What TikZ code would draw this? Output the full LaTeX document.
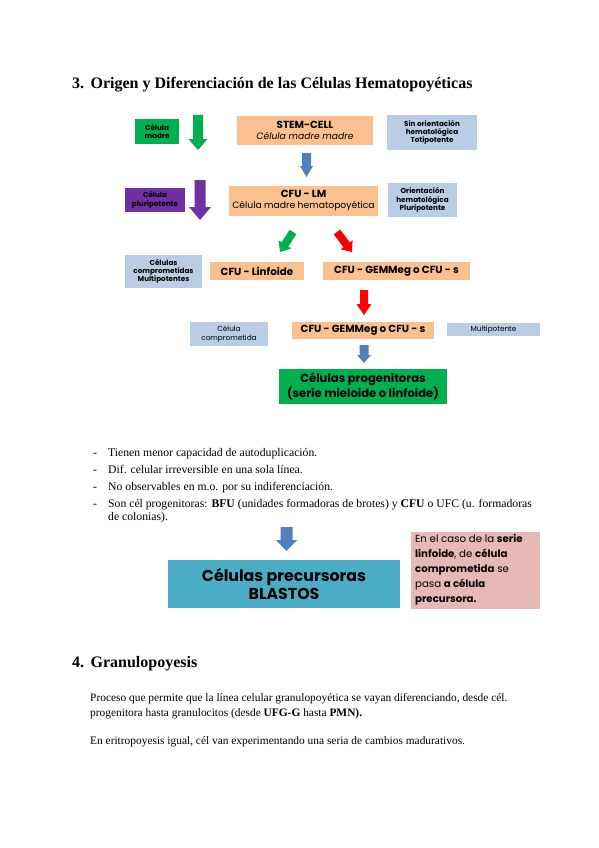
\documentclass[tikz,border=0pt]{standalone}
\usepackage{fontspec}
\setmainfont{Liberation Serif}
\newfontfamily\boxfont{Poppins}
\usetikzlibrary{calc}
\definecolor{gA}{HTML}{00B050}
\definecolor{pA}{HTML}{7030A0}
\definecolor{bA}{HTML}{4F81BD}
\definecolor{rA}{HTML}{FF0000}
\definecolor{orA}{HTML}{FAC090}
\definecolor{lbA}{HTML}{B9CDE5}
\definecolor{tlA}{HTML}{4BACC6}
\definecolor{pkA}{HTML}{E6B9B8}
\newcommand\blockarrow[6]{% style, tail, tip, shaft half width, head half width, head length
  \coordinate (hb) at ($(#3)!#6!(#2)$);
  \fill[#1] ($(#2)!#4!90:(#3)$) -- ($(hb)!#4!90:(#3)$) -- ($(hb)!#5!90:(#3)$) -- (#3)
    -- ($(hb)!#5!-90:(#3)$) -- ($(hb)!#4!-90:(#3)$) -- ($(#2)!#4!-90:(#3)$) -- cycle;}
\begin{document}
\begin{tikzpicture}[x=1pt,y=-1pt,
  box/.style={inner sep=0pt, align=center, text=black},
  sm/.style={box, font=\boxfont\bfseries\fontsize{7.2}{8.4}\selectfont},
  xs/.style={box, font=\boxfont\fontsize{7.3}{8.2}\selectfont},
  bd/.style={box, font=\boxfont\bfseries\fontsize{10.3}{12}\selectfont},
  body/.style={anchor=base west, inner sep=0pt, font=\fontsize{11.7}{13}\selectfont},
  para/.style={anchor=base west, inner sep=0pt, font=\fontsize{11.4}{13}\selectfont},
  head/.style={anchor=base west, inner sep=0pt, font=\bfseries\fontsize{16}{18}\selectfont}]
\useasboundingbox (0,0) rectangle (599,848);
\fill[white] (0,0) rectangle (599,848);

\node[head] (t3) at (72,89) {3.\hspace{0.4em}Origen y Diferenciación de las Células Hematopoyéticas};

% row 1
\node[sm, fill=gA, minimum width=44, minimum height=25] (madre) at (157,131.5) {Célula\\madre};
\node[box, fill=orA, minimum width=136, minimum height=29, font=\boxfont\fontsize{9.2}{11}\selectfont] (stem) at (305,130.5) {{\bfseries\fontsize{10.3}{11}\selectfont STEM-CELL}\\\textit{Célula madre madre}};
\node[sm, fill=lbA, minimum width=90, minimum height=35] (sin) at (432,132.5) {Sin orientación\\hematológica\\Totipotente};

% row 2
\node[sm, fill=pA, minimum width=60, minimum height=24] (pluri) at (155,200) {Célula\\pluripotente};
\node[box, fill=orA, minimum width=149, minimum height=30, font=\boxfont\fontsize{9.2}{11}\selectfont] (cfulm) at (303.5,201) {{\bfseries\fontsize{10.3}{11}\selectfont CFU - LM}\\Célula madre hematopoyética};
\node[sm, fill=lbA, minimum width=69, minimum height=34] (orient) at (422.5,200) {Orientación\\hematológica\\Pluripotente};

% row 3
\node[sm, fill=lbA, minimum width=77, minimum height=33] (compr) at (163.5,271.5) {Células\\comprometidas\\Multipotentes};
\node[bd, fill=orA, minimum width=94, minimum height=18] (linf) at (257,271) {CFU - Linfoide};
\node[bd, fill=orA, minimum width=147, minimum height=18] (gem1) at (396.5,271) {CFU - GEMMeg o CFU - s};

% row 4
\node[xs, fill=lbA, minimum width=78, minimum height=24] (compr2) at (229,334) {Célula\\comprometida};
\node[bd, fill=orA, minimum width=142, minimum height=17] (gem2) at (363,330.5) {CFU - GEMMeg o CFU - s};
\node[xs, fill=lbA, minimum width=93, minimum height=13] (multi) at (493.5,329.5) {Multipotente};

% row 5
\node[box, fill=gA, minimum width=168, minimum height=35, font=\boxfont\bfseries\fontsize{11.6}{13.5}\selectfont] (prog) at (363,386.5) {Células progenitoras\\(serie mieloide o linfoide)};

% arrows
\coordinate (a1t) at (198,115); \coordinate (a1p) at (198,150);
\blockarrow{gA}{a1t}{a1p}{5pt}{9.5pt}{11pt}
\coordinate (a2t) at (306.5,153); \coordinate (a2p) at (306.5,177);
\blockarrow{bA}{a2t}{a2p}{4.5pt}{6.5pt}{11pt}
\coordinate (a3t) at (200,180); \coordinate (a3p) at (200,220);
\blockarrow{pA}{a3t}{a3p}{5.5pt}{11pt}{13pt}
\coordinate (a4t) at (293,232); \coordinate (a4p) at (280,252);
\blockarrow{gA}{a4t}{a4p}{4pt}{7.5pt}{9pt}
\coordinate (a5t) at (337,232); \coordinate (a5p) at (352,252);
\blockarrow{rA}{a5t}{a5p}{4pt}{7.5pt}{9pt}
\coordinate (a6t) at (364,290); \coordinate (a6p) at (364,315);
\blockarrow{rA}{a6t}{a6p}{4pt}{7.5pt}{11pt}
\coordinate (a7t) at (364,345); \coordinate (a7p) at (364,363);
\blockarrow{bA}{a7t}{a7p}{4.5pt}{7pt}{8pt}
\coordinate (a8t) at (286.5,527); \coordinate (a8p) at (286.5,551);
\blockarrow{bA}{a8t}{a8p}{6pt}{10.5pt}{11pt}

% bullets
\node[body] (d1) at (93,456) {-}; \node[body] (b1) at (108,456) {Tienen menor capacidad de autoduplicación.};
\node[body] (d2) at (93,473) {-}; \node[body] (b2) at (108,473) {Dif. celular irreversible en una sola línea.};
\node[body] (d3) at (93,490) {-}; \node[body] (b3) at (108,490) {No observables en m.o. por su indiferenciación.};
\node[body] (d4) at (93,507) {-}; \node[body] (b4) at (108,507) {Son cél progenitoras: \textbf{BFU} (unidades formadoras de brotes) y \textbf{CFU} o UFC (u. formadoras};
\node[body] (b5) at (108,520) {de colonias).};

% blastos and note
\node[box, fill=tlA, minimum width=232, minimum height=48, font=\boxfont\bfseries\fontsize{15.8}{18}\selectfont] (blast) at (284,584) {Células precursoras\\BLASTOS};
\node[fill=pkA, minimum width=129, minimum height=77, inner sep=0pt] (pink) at (475.5,570.5) {};
\node[anchor=north west, inner sep=0pt, align=left, font=\boxfont\fontsize{10.2}{15}\selectfont] (note) at (415,534) {En el caso de la \textbf{serie}\\\textbf{linfoide}, de \textbf{célula}\\\textbf{comprometida} se\\pasa \textbf{a célula}\\\textbf{precursora.}};

% section 4
\node[head] (t4) at (72,667) {4.\hspace{0.4em}Granulopoyesis};
\node[para] (p1) at (90,701) {Proceso que permite que la línea celular granulopoyética se vayan diferenciando, desde cél.};
\node[para] (p2) at (90,716) {progenitora hasta granulocitos (desde \textbf{UFG-G} hasta \textbf{PMN).}};
\node[para] (p3) at (90,744) {En eritropoyesis igual, cél van experimentando una seria de cambios madurativos.};
\end{tikzpicture}
\end{document}
